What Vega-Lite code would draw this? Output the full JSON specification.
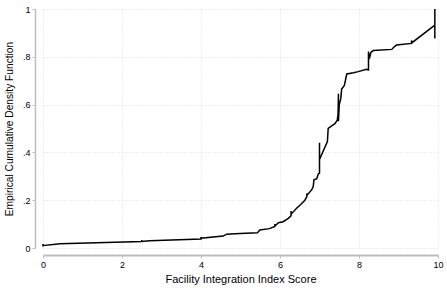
{
  "$schema": "https://vega.github.io/schema/vega-lite/v6.json",
  "width": 395,
  "height": 239,
  "autosize": {"type": "none"},
  "padding": {"left": 43, "top": 9, "right": 9, "bottom": 42},
  "background": "white",
  "config": {
    "view": {"stroke": null},
    "font": "Liberation Sans"
  },
  "data": {
    "values": [
      {"i": 1, "x": 0, "y": 0.017},
      {"i": 2, "x": 0, "y": 0.006},
      {"i": 3, "x": 0, "y": 0.01},
      {"i": 4, "x": 0.43, "y": 0.018},
      {"i": 5, "x": 2.5, "y": 0.027},
      {"i": 6, "x": 2.5, "y": 0.033},
      {"i": 7, "x": 2.5, "y": 0.027},
      {"i": 8, "x": 2.7, "y": 0.03},
      {"i": 9, "x": 4.0, "y": 0.038},
      {"i": 10, "x": 4.0, "y": 0.046},
      {"i": 11, "x": 4.0, "y": 0.036},
      {"i": 12, "x": 4.0, "y": 0.041},
      {"i": 13, "x": 4.56, "y": 0.05},
      {"i": 14, "x": 4.65, "y": 0.058},
      {"i": 15, "x": 4.99, "y": 0.061},
      {"i": 16, "x": 5.43, "y": 0.064},
      {"i": 17, "x": 5.49, "y": 0.075},
      {"i": 18, "x": 5.73, "y": 0.081},
      {"i": 19, "x": 5.87, "y": 0.09},
      {"i": 20, "x": 5.87, "y": 0.1},
      {"i": 21, "x": 5.87, "y": 0.092},
      {"i": 22, "x": 5.96, "y": 0.106},
      {"i": 23, "x": 6.08, "y": 0.11},
      {"i": 24, "x": 6.21, "y": 0.124},
      {"i": 25, "x": 6.28, "y": 0.135},
      {"i": 26, "x": 6.28, "y": 0.155},
      {"i": 27, "x": 6.28, "y": 0.14},
      {"i": 28, "x": 6.3, "y": 0.145},
      {"i": 29, "x": 6.42, "y": 0.166},
      {"i": 30, "x": 6.51, "y": 0.18},
      {"i": 31, "x": 6.63, "y": 0.2},
      {"i": 32, "x": 6.68, "y": 0.215},
      {"i": 33, "x": 6.68, "y": 0.228},
      {"i": 34, "x": 6.69, "y": 0.222},
      {"i": 35, "x": 6.8, "y": 0.243},
      {"i": 36, "x": 6.84, "y": 0.256},
      {"i": 37, "x": 6.86, "y": 0.285},
      {"i": 38, "x": 6.93, "y": 0.29},
      {"i": 39, "x": 6.97, "y": 0.31},
      {"i": 40, "x": 7.0, "y": 0.313},
      {"i": 41, "x": 7.0, "y": 0.44},
      {"i": 42, "x": 7.0, "y": 0.37},
      {"i": 43, "x": 7.2, "y": 0.445},
      {"i": 44, "x": 7.22, "y": 0.5},
      {"i": 45, "x": 7.3, "y": 0.51},
      {"i": 46, "x": 7.39, "y": 0.52},
      {"i": 47, "x": 7.45, "y": 0.535},
      {"i": 48, "x": 7.47, "y": 0.56},
      {"i": 49, "x": 7.48, "y": 0.645},
      {"i": 50, "x": 7.48, "y": 0.53},
      {"i": 51, "x": 7.5, "y": 0.6},
      {"i": 52, "x": 7.54, "y": 0.625},
      {"i": 53, "x": 7.56, "y": 0.665},
      {"i": 54, "x": 7.63, "y": 0.68},
      {"i": 55, "x": 7.69, "y": 0.728},
      {"i": 56, "x": 7.86, "y": 0.733},
      {"i": 57, "x": 7.98, "y": 0.738},
      {"i": 58, "x": 8.19, "y": 0.748},
      {"i": 59, "x": 8.24, "y": 0.745},
      {"i": 60, "x": 8.24, "y": 0.822},
      {"i": 61, "x": 8.26, "y": 0.79},
      {"i": 62, "x": 8.3, "y": 0.818},
      {"i": 63, "x": 8.36, "y": 0.826},
      {"i": 64, "x": 8.83, "y": 0.831},
      {"i": 65, "x": 8.88, "y": 0.84},
      {"i": 66, "x": 8.95, "y": 0.849},
      {"i": 67, "x": 9.33, "y": 0.856},
      {"i": 68, "x": 9.33, "y": 0.868},
      {"i": 69, "x": 9.35, "y": 0.86},
      {"i": 70, "x": 9.92, "y": 0.933},
      {"i": 71, "x": 9.92, "y": 1.0},
      {"i": 72, "x": 9.92, "y": 0.877}
    ]
  },
  "mark": {"type": "line", "color": "#000000", "strokeWidth": 1.5, "clip": false},
  "encoding": {
    "order": {"field": "i", "type": "quantitative"},
    "x": {
      "field": "x",
      "type": "quantitative",
      "scale": {"domain": [0, 10], "nice": false, "zero": false},
      "axis": {
        "title": "Facility Integration Index Score",
        "values": [0, 2, 4, 6, 8, 10],
        "offset": 7,
        "domainColor": "#bdbdbd",
        "domainWidth": 2,
        "tickColor": "#bdbdbd",
        "tickSize": 3,
        "tickWidth": 1,
        "labelFont": "Liberation Sans",
        "labelFontSize": 9,
        "labelColor": "#000000",
        "labelPadding": 2,
        "labelFlush": false,
        "titleFont": "Liberation Sans",
        "titleFontSize": 11,
        "titleFontWeight": "normal",
        "titleColor": "#000000",
        "titlePadding": 4,
        "grid": true,
        "gridColor": "#dcdcdc",
        "gridDash": [1, 2],
        "gridWidth": 1
      }
    },
    "y": {
      "field": "y",
      "type": "quantitative",
      "scale": {"domain": [0, 1], "nice": false, "zero": false},
      "axis": {
        "title": "Empirical Cumulative Density Function",
        "values": [0, 0.2, 0.4, 0.6, 0.8, 1],
        "labelExpr": "datum.value == 0 ? '0' : datum.value == 1 ? '1' : replace(format(datum.value, '.1f'), '0.', '.')",
        "offset": 8,
        "domainColor": "#bdbdbd",
        "domainWidth": 1.5,
        "tickColor": "#bdbdbd",
        "tickSize": 3,
        "tickWidth": 1,
        "labelFont": "Liberation Sans",
        "labelFontSize": 9,
        "labelColor": "#000000",
        "labelPadding": 2,
        "labelFlush": false,
        "titleFont": "Liberation Sans",
        "titleFontSize": 10.2,
        "titleFontWeight": "normal",
        "titleColor": "#000000",
        "titlePadding": 8,
        "grid": true,
        "gridColor": "#dcdcdc",
        "gridDash": [1, 2],
        "gridWidth": 1
      }
    }
  }
}
